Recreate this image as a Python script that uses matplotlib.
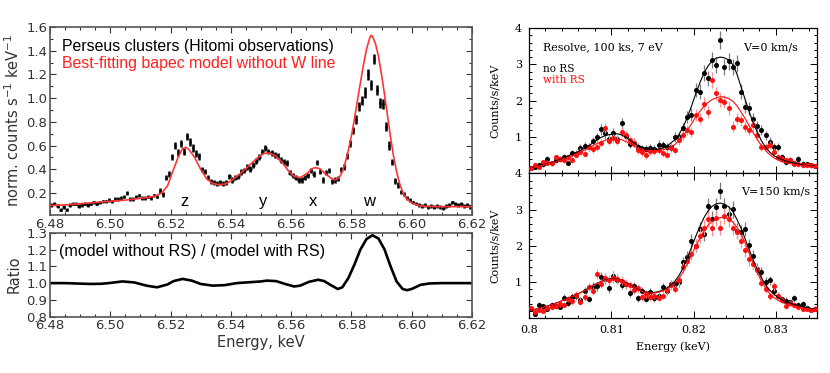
import numpy as np
import matplotlib
matplotlib.use("Agg")
from matplotlib import pyplot as plt
from matplotlib.ticker import MultipleLocator, FixedLocator

# ---------------- left: Hitomi Perseus spectrum ----------------
hit_start, hit_step = 6.4805, 0.001
hit_counts = [0.10, 0.11, 0.09, 0.06, 0.08, 0.06, 0.10, 0.11, 0.11, 0.09,
              0.10, 0.11, 0.10, 0.11, 0.12, 0.11, 0.12, 0.13, 0.13, 0.14,
              0.13, 0.15, 0.15, 0.16, 0.17, 0.20, 0.15, 0.15, 0.17, 0.18,
              0.16, 0.16, 0.17, 0.16, 0.18, 0.17, 0.22, 0.19, 0.33, 0.36,
              0.50, 0.60, 0.54, 0.62, 0.55, 0.68, 0.63, 0.58, 0.53, 0.51,
              0.40, 0.38, 0.33, 0.30, 0.29, 0.28, 0.29, 0.28, 0.29, 0.34,
              0.31, 0.33, 0.34, 0.38, 0.39, 0.42, 0.40, 0.44, 0.47, 0.50,
              0.55, 0.58, 0.55, 0.54, 0.52, 0.51, 0.48, 0.46, 0.45, 0.37,
              0.35, 0.33, 0.31, 0.31, 0.33, 0.35, 0.39, 0.36, 0.46, 0.38,
              0.31, 0.37, 0.39, 0.30, 0.31, 0.32, 0.40, 0.42, 0.51, 0.62,
              0.73, 0.82, 0.93, 0.98, 1.05, 1.20, 1.11, 1.33, 1.07, 0.96,
              0.95, 0.76, 0.60, 0.46, 0.30, 0.27, 0.21, 0.19, 0.16, 0.14,
              0.12, 0.11, 0.10, 0.09, 0.10, 0.08, 0.09, 0.08, 0.09, 0.08,
              0.07, 0.09, 0.10, 0.12, 0.11, 0.10, 0.11, 0.09, 0.10, 0.08]
hit_err = [0.015, 0.015, 0.015, 0.015, 0.015, 0.015, 0.015, 0.015, 0.015, 0.015,
           0.015, 0.015, 0.015, 0.015, 0.015, 0.015, 0.015, 0.015, 0.015, 0.015,
           0.015, 0.015, 0.015, 0.015, 0.015, 0.015, 0.015, 0.015, 0.015, 0.015,
           0.015, 0.015, 0.015, 0.015, 0.015, 0.015, 0.02, 0.02, 0.02, 0.025,
           0.025, 0.03, 0.03, 0.03, 0.03, 0.03, 0.03, 0.03, 0.03, 0.03,
           0.022, 0.022, 0.022, 0.022, 0.022, 0.022, 0.022, 0.022, 0.022, 0.022,
           0.022, 0.022, 0.022, 0.025, 0.025, 0.025, 0.025, 0.025, 0.025, 0.025,
           0.025, 0.025, 0.025, 0.025, 0.025, 0.025, 0.025, 0.025, 0.025, 0.022,
           0.022, 0.022, 0.022, 0.022, 0.022, 0.022, 0.022, 0.022, 0.022, 0.022,
           0.022, 0.022, 0.022, 0.022, 0.022, 0.022, 0.022, 0.022, 0.025, 0.03,
           0.03, 0.035, 0.035, 0.035, 0.045, 0.045, 0.045, 0.045, 0.045, 0.045,
           0.045, 0.035, 0.035, 0.025, 0.025, 0.025, 0.015, 0.015, 0.015, 0.015,
           0.015, 0.015, 0.015, 0.015, 0.015, 0.015, 0.015, 0.015, 0.015, 0.015,
           0.015, 0.015, 0.015, 0.015, 0.015, 0.015, 0.015, 0.015, 0.015, 0.015]

bapec_e = [6.480, 6.485, 6.490, 6.495, 6.500, 6.505, 6.510, 6.513, 6.515, 6.517,
           6.519, 6.521, 6.5225, 6.524, 6.525, 6.526, 6.528, 6.530, 6.532, 6.534,
           6.536, 6.538, 6.540, 6.543, 6.546, 6.549, 6.551, 6.553, 6.555, 6.557,
           6.559, 6.561, 6.563, 6.565, 6.567, 6.568, 6.5695, 6.571, 6.573, 6.5745,
           6.576, 6.577, 6.578, 6.579, 6.580, 6.581, 6.582, 6.583, 6.584, 6.585,
           6.586, 6.5865, 6.587, 6.588, 6.589, 6.590, 6.591, 6.592, 6.593, 6.594,
           6.595, 6.596, 6.597, 6.598, 6.600, 6.603, 6.608, 6.614, 6.620]
bapec_v = [0.095, 0.10, 0.11, 0.12, 0.13, 0.14, 0.155, 0.165, 0.175, 0.20,
           0.26, 0.40, 0.50, 0.575, 0.585, 0.57, 0.50, 0.40, 0.32, 0.28,
           0.27, 0.275, 0.30, 0.36, 0.43, 0.50, 0.535, 0.535, 0.51, 0.46,
           0.39, 0.34, 0.33, 0.36, 0.405, 0.415, 0.405, 0.37, 0.33, 0.31,
           0.33, 0.38, 0.46, 0.56, 0.68, 0.82, 0.98, 1.13, 1.28, 1.41,
           1.50, 1.53, 1.52, 1.46, 1.35, 1.20, 1.03, 0.85, 0.67, 0.51,
           0.38, 0.28, 0.21, 0.16, 0.115, 0.09, 0.085, 0.085, 0.085]

ratio_e = [6.480, 6.485, 6.490, 6.4935, 6.497, 6.500, 6.504, 6.508, 6.512, 6.5155,
           6.519, 6.521, 6.524, 6.527, 6.530, 6.534, 6.538, 6.542, 6.546, 6.550,
           6.552, 6.555, 6.558, 6.561, 6.563, 6.566, 6.569, 6.571, 6.573, 6.5755,
           6.577, 6.579, 6.581, 6.583, 6.585, 6.587, 6.589, 6.591, 6.593, 6.595,
           6.597, 6.5985, 6.600, 6.603, 6.606, 6.610, 6.620]
ratio_v = [1.000, 1.000, 0.997, 0.995, 0.996, 1.001, 1.010, 1.004, 0.985, 0.975,
           0.992, 1.012, 1.025, 1.015, 0.995, 0.985, 0.988, 1.000, 1.005, 1.010,
           1.015, 1.012, 0.995, 0.980, 0.985, 1.008, 1.020, 1.012, 0.990, 0.965,
           0.975, 1.030, 1.110, 1.200, 1.262, 1.285, 1.265, 1.200, 1.100, 1.010,
           0.965, 0.958, 0.965, 0.990, 0.998, 1.000, 1.000]

line_names = ["z", "y", "x", "w"]
line_e = [6.5248, 6.5508, 6.5674, 6.5858]

# ---------------- right: Resolve simulation ----------------
res_start, res_step = 0.80025, 0.0005

model_no_rs_v0 = [0.17, 0.19, 0.21, 0.24, 0.27, 0.30, 0.34, 0.38, 0.43, 0.48,
                  0.53, 0.58, 0.63, 0.69, 0.76, 0.84, 0.92, 0.99, 1.04, 1.07,
                  1.09, 1.09, 1.06, 1.00, 0.92, 0.84, 0.77, 0.73, 0.69, 0.67,
                  0.66, 0.67, 0.70, 0.75, 0.84, 0.93, 1.08, 1.28, 1.55, 1.85,
                  2.18, 2.48, 2.75, 2.95, 3.09, 3.17, 3.20, 3.18, 3.12, 3.00,
                  2.75, 2.40, 2.05, 1.70, 1.40, 1.13, 0.90, 0.72, 0.59, 0.49,
                  0.43, 0.38, 0.34, 0.31, 0.28, 0.26, 0.24, 0.22, 0.21, 0.20]
model_rs_v0 = [0.17, 0.19, 0.21, 0.23, 0.26, 0.29, 0.32, 0.36, 0.40, 0.44,
               0.49, 0.54, 0.59, 0.64, 0.70, 0.76, 0.82, 0.87, 0.91, 0.94,
               0.95, 0.95, 0.93, 0.88, 0.82, 0.75, 0.70, 0.66, 0.63, 0.61,
               0.61, 0.62, 0.65, 0.68, 0.72, 0.80, 0.91, 1.04, 1.20, 1.36,
               1.55, 1.70, 1.84, 1.95, 2.03, 2.08, 2.11, 2.10, 2.06, 1.99,
               1.87, 1.70, 1.52, 1.32, 1.12, 0.93, 0.77, 0.63, 0.52, 0.43,
               0.37, 0.32, 0.29, 0.27, 0.25, 0.23, 0.22, 0.21, 0.20, 0.19]
data_no_rs_v0 = [0.16, 0.19, 0.22, 0.25, 0.40, 0.28, 0.36, 0.39, 0.44, 0.30,
                 0.55, 0.54, 0.70, 0.75, 0.72, 0.88, 0.99, 1.21, 1.10, 0.95,
                 1.12, 0.94, 1.38, 1.04, 0.81, 0.85, 0.73, 0.68, 0.68, 0.71,
                 0.68, 0.79, 0.77, 0.73, 0.73, 1.00, 1.00, 1.24, 1.56, 1.62,
                 2.29, 2.25, 2.75, 2.62, 3.12, 2.98, 3.67, 2.94, 3.08, 2.94,
                 3.03, 2.25, 1.83, 1.79, 1.51, 1.30, 1.19, 1.05, 0.87, 0.73,
                 0.73, 0.45, 0.31, 0.36, 0.30, 0.40, 0.27, 0.25, 0.22, 0.21]
err_no_rs_v0 = [0.05, 0.06, 0.06, 0.06, 0.08, 0.07, 0.08, 0.08, 0.09, 0.07,
                0.10, 0.10, 0.11, 0.11, 0.11, 0.12, 0.13, 0.14, 0.14, 0.13,
                0.14, 0.13, 0.15, 0.13, 0.12, 0.12, 0.11, 0.11, 0.11, 0.11,
                0.11, 0.12, 0.11, 0.11, 0.11, 0.13, 0.13, 0.14, 0.16, 0.17,
                0.20, 0.20, 0.22, 0.21, 0.23, 0.22, 0.25, 0.22, 0.23, 0.22,
                0.23, 0.20, 0.18, 0.17, 0.16, 0.15, 0.14, 0.13, 0.12, 0.11,
                0.11, 0.09, 0.07, 0.08, 0.07, 0.08, 0.07, 0.06, 0.06, 0.06]
data_rs_v0 = [0.15, 0.24, 0.17, 0.31, 0.29, 0.28, 0.45, 0.40, 0.38, 0.44,
              0.36, 0.52, 0.60, 0.54, 0.72, 0.66, 0.72, 0.84, 1.25, 0.90,
              0.98, 0.90, 1.13, 1.05, 0.92, 0.85, 0.64, 0.59, 0.50, 0.61,
              0.61, 0.64, 0.55, 0.52, 0.70, 0.64, 0.91, 1.05, 1.19, 1.14,
              1.60, 1.51, 1.92, 1.69, 2.57, 2.20, 2.02, 1.97, 1.79, 1.28,
              1.51, 1.46, 1.28, 1.19, 1.33, 1.05, 0.73, 0.73, 0.77, 0.59,
              0.45, 0.40, 0.36, 0.36, 0.27, 0.25, 0.22, 0.22, 0.22, 0.21]
err_rs_v0 = [0.05, 0.06, 0.05, 0.07, 0.07, 0.07, 0.09, 0.08, 0.08, 0.09,
             0.08, 0.09, 0.10, 0.10, 0.11, 0.11, 0.11, 0.12, 0.15, 0.12,
             0.13, 0.12, 0.14, 0.13, 0.12, 0.12, 0.10, 0.10, 0.09, 0.10,
             0.10, 0.10, 0.10, 0.09, 0.11, 0.10, 0.12, 0.13, 0.14, 0.14,
             0.16, 0.16, 0.18, 0.17, 0.21, 0.19, 0.18, 0.18, 0.17, 0.15,
             0.16, 0.16, 0.15, 0.14, 0.15, 0.13, 0.11, 0.11, 0.11, 0.10,
             0.09, 0.08, 0.08, 0.08, 0.07, 0.06, 0.06, 0.06, 0.06, 0.06]

model_no_rs_v150 = [0.22, 0.24, 0.27, 0.30, 0.33, 0.37, 0.41, 0.45, 0.50, 0.55,
                    0.60, 0.65, 0.70, 0.76, 0.83, 0.90, 0.96, 1.01, 1.05, 1.08,
                    1.09, 1.08, 1.05, 0.99, 0.92, 0.85, 0.79, 0.75, 0.72, 0.71,
                    0.71, 0.73, 0.77, 0.83, 0.91, 1.02, 1.18, 1.40, 1.67, 1.95,
                    2.25, 2.52, 2.77, 2.96, 3.09, 3.16, 3.18, 3.15, 3.08, 2.96,
                    2.74, 2.50, 2.20, 1.90, 1.60, 1.34, 1.11, 0.92, 0.77, 0.66,
                    0.57, 0.50, 0.45, 0.41, 0.37, 0.34, 0.31, 0.29, 0.27, 0.25]
model_rs_v150 = [0.22, 0.24, 0.27, 0.30, 0.33, 0.37, 0.41, 0.45, 0.50, 0.55,
                 0.60, 0.65, 0.70, 0.76, 0.82, 0.89, 0.95, 1.00, 1.04, 1.07,
                 1.08, 1.07, 1.04, 0.98, 0.91, 0.84, 0.78, 0.73, 0.70, 0.69,
                 0.69, 0.71, 0.75, 0.80, 0.87, 0.96, 1.10, 1.28, 1.50, 1.74,
                 1.98, 2.20, 2.40, 2.56, 2.68, 2.75, 2.78, 2.78, 2.74, 2.66,
                 2.52, 2.33, 2.09, 1.80, 1.52, 1.25, 1.02, 0.83, 0.68, 0.57,
                 0.49, 0.43, 0.39, 0.35, 0.33, 0.30, 0.28, 0.26, 0.25, 0.24]
data_no_rs_v150 = [0.24, 0.12, 0.36, 0.33, 0.24, 0.36, 0.34, 0.31, 0.56, 0.42,
                   0.58, 0.60, 0.50, 0.75, 0.52, 0.87, 0.88, 1.13, 1.08, 0.82,
                   1.17, 1.06, 0.91, 0.93, 0.70, 0.88, 0.55, 0.76, 0.53, 0.72,
                   0.55, 0.60, 0.85, 0.75, 0.93, 0.95, 1.00, 1.54, 1.68, 2.14,
                   2.00, 2.47, 2.32, 3.10, 2.74, 3.08, 3.52, 3.10, 2.88, 3.01,
                   2.42, 2.37, 2.46, 2.01, 1.72, 1.36, 1.27, 1.00, 1.04, 0.76,
                   0.62, 0.53, 0.48, 0.44, 0.55, 0.35, 0.38, 0.28, 0.23, 0.26]
err_no_rs_v150 = [0.06, 0.05, 0.08, 0.07, 0.06, 0.08, 0.08, 0.07, 0.10, 0.08,
                  0.10, 0.10, 0.09, 0.11, 0.09, 0.12, 0.12, 0.14, 0.13, 0.12,
                  0.14, 0.13, 0.12, 0.12, 0.11, 0.12, 0.10, 0.11, 0.09, 0.11,
                  0.10, 0.10, 0.12, 0.11, 0.12, 0.13, 0.13, 0.16, 0.17, 0.19,
                  0.18, 0.20, 0.20, 0.23, 0.22, 0.23, 0.24, 0.23, 0.22, 0.23,
                  0.20, 0.20, 0.20, 0.18, 0.17, 0.15, 0.15, 0.13, 0.13, 0.11,
                  0.10, 0.09, 0.09, 0.09, 0.10, 0.08, 0.08, 0.07, 0.06, 0.07]
data_rs_v150 = [0.28, 0.17, 0.22, 0.20, 0.28, 0.30, 0.34, 0.38, 0.36, 0.52,
                0.46, 0.64, 0.45, 0.58, 0.86, 0.75, 1.22, 0.95, 1.10, 1.05,
                1.12, 1.08, 1.03, 0.95, 0.90, 0.78, 0.82, 0.58, 0.66, 0.58,
                0.62, 0.56, 0.62, 0.78, 0.90, 0.80, 1.04, 1.40, 1.59, 1.77,
                2.00, 2.28, 2.50, 2.74, 2.48, 2.78, 2.50, 2.83, 2.75, 2.50,
                2.38, 2.12, 1.88, 1.62, 1.50, 1.33, 0.98, 0.80, 0.60, 0.88,
                0.62, 0.50, 0.32, 0.42, 0.36, 0.30, 0.25, 0.26, 0.22, 0.24]
err_rs_v150 = [0.07, 0.05, 0.06, 0.06, 0.07, 0.07, 0.08, 0.08, 0.08, 0.09,
               0.09, 0.10, 0.09, 0.10, 0.12, 0.11, 0.14, 0.13, 0.14, 0.13,
               0.14, 0.14, 0.13, 0.13, 0.12, 0.11, 0.12, 0.10, 0.11, 0.10,
               0.10, 0.10, 0.10, 0.11, 0.12, 0.12, 0.13, 0.15, 0.16, 0.17,
               0.18, 0.20, 0.21, 0.22, 0.20, 0.22, 0.21, 0.22, 0.22, 0.21,
               0.20, 0.19, 0.18, 0.17, 0.16, 0.15, 0.13, 0.12, 0.10, 0.12,
               0.10, 0.09, 0.07, 0.08, 0.08, 0.07, 0.06, 0.07, 0.06, 0.06]

hit_x = hit_start + hit_step * np.arange(len(hit_counts))
res_x = res_start + res_step * np.arange(len(data_no_rs_v0))

fig = plt.figure(figsize=(8.3, 3.73), dpi=100)
gray = "#333333"
label_font = "Liberation Sans"
serif = "DejaVu Serif"
rfs = 8.0  # font size for the right-hand panels


def style_left(ax):
    ax.tick_params(which="both", direction="in", top=True, right=True,
                   colors=gray, labelsize=9.5, pad=2)
    ax.tick_params(which="major", length=4, width=0.8)
    ax.tick_params(which="minor", length=2.5, width=0.8)
    for s in ax.spines.values():
        s.set_color("#555555")
        s.set_linewidth(1.2)
    ax.set_xlim(6.48, 6.62)
    ax.xaxis.set_major_locator(MultipleLocator(0.02))
    ax.xaxis.set_minor_locator(MultipleLocator(0.005))
    ax.xaxis.set_major_formatter(matplotlib.ticker.FormatStrFormatter("%.2f"))


# left top
ax1 = fig.add_axes([0.0602, 0.4236, 0.5084, 0.504])
style_left(ax1)
ax1.set_ylim(0.0145, 1.6)
ax1.yaxis.set_major_locator(FixedLocator([0.2, 0.4, 0.6, 0.8, 1.0, 1.2, 1.4, 1.6]))
ax1.yaxis.set_minor_locator(MultipleLocator(0.1))
ax1.yaxis.set_major_formatter(matplotlib.ticker.FormatStrFormatter("%.1f"))
ax1.errorbar(hit_x, hit_counts, yerr=hit_err, xerr=0.0004, fmt="none",
             ecolor="black", elinewidth=1.8, capsize=0, zorder=2)
ax1.plot(bapec_e, bapec_v, color="#ff3535", lw=1.2, zorder=3)
ax1.set_ylabel("norm. counts s$^{-1}$ keV$^{-1}$", fontsize=10.5, color=gray,
               labelpad=3)
ax1.text(0.028, 0.895, "Perseus clusters (Hitomi observations)", transform=ax1.transAxes,
         fontsize=11.4, family=label_font, color="black", va="center")
ax1.text(0.028, 0.805, "Best-fitting bapec model without W line", transform=ax1.transAxes,
         fontsize=11.4, family=label_font, color="#ff2020", va="center")
for name, e in zip(line_names, line_e):
    ax1.text(e, 0.13, name, fontsize=12, family=label_font, ha="center", va="center")

# left bottom
ax2 = fig.add_axes([0.0602, 0.1509, 0.5084, 0.2252])
style_left(ax2)
ax2.set_ylim(0.8, 1.3)
ax2.yaxis.set_major_locator(MultipleLocator(0.1))
ax2.yaxis.set_major_formatter(matplotlib.ticker.FormatStrFormatter("%.1f"))
ax2.plot(ratio_e, ratio_v, color="black", lw=1.9)
ax2.set_ylabel("Ratio", fontsize=10.5, color=gray, labelpad=3)
ax2.set_xlabel("Energy, keV", fontsize=10.5, color=gray, labelpad=2)
ax2.text(0.022, 0.78, "(model without RS) / (model with RS)", transform=ax2.transAxes,
         fontsize=11.6, family=label_font, va="center")


def style_right(ax, show_x):
    ax.set_xlim(0.8, 0.835)
    ax.set_ylim(0, 4)
    ax.xaxis.set_major_locator(MultipleLocator(0.01))
    ax.xaxis.set_minor_locator(MultipleLocator(0.002))
    ax.yaxis.set_major_locator(FixedLocator([1, 2, 3, 4]))
    ax.yaxis.set_minor_locator(MultipleLocator(0.2))
    ax.tick_params(which="both", direction="in", top=True, right=True,
                   labelsize=rfs, pad=5)
    ax.tick_params(which="major", length=5, width=0.7)
    ax.tick_params(which="minor", length=2.5, width=0.7)
    for lab in ax.get_xticklabels() + ax.get_yticklabels():
        lab.set_family(serif)
    for s in ax.spines.values():
        s.set_linewidth(0.9)
    if show_x:
        ax.set_xticks([0.80, 0.81, 0.82, 0.83])
        ax.set_xticklabels(["0.8", "0.81", "0.82", "0.83"], family=serif)
    else:
        ax.tick_params(labelbottom=False)
    ax.set_ylabel("Counts/s/keV", fontsize=rfs, family=serif, labelpad=11)


def draw_pair(ax, d_k, e_k, m_k, d_r, e_r, m_r):
    ax.errorbar(res_x, d_k, yerr=e_k, fmt="o", ms=2.6, color="black",
                ecolor="#7a7a7a", elinewidth=0.9, capsize=0, zorder=3)
    ax.errorbar(res_x, d_r, yerr=e_r, fmt="o", ms=2.6, color="#ff1010",
                ecolor="#ff9090", elinewidth=0.9, capsize=0, zorder=4)
    ax.plot(res_x, m_k, color="black", lw=0.8, zorder=5)
    ax.plot(res_x, m_r, color="#ff1010", lw=0.8, zorder=5)


ax3 = fig.add_axes([0.6373, 0.5349, 0.347, 0.3901])
style_right(ax3, False)
draw_pair(ax3, data_no_rs_v0, err_no_rs_v0, model_no_rs_v0,
          data_rs_v0, err_rs_v0, model_rs_v0)
ax3.text(0.05, 0.866, "Resolve, 100 ks, 7 eV", transform=ax3.transAxes,
         fontsize=rfs, family=serif, va="center")
ax3.text(0.935, 0.866, "V=0 km/s", transform=ax3.transAxes,
         fontsize=rfs, family=serif, va="center", ha="right")
ax3.text(0.05, 0.72, "no RS", transform=ax3.transAxes,
         fontsize=7.6, family=serif, va="center")
ax3.text(0.05, 0.64, "with RS", transform=ax3.transAxes,
         fontsize=7.6, family=serif, va="center", color="#ff1010")

ax4 = fig.add_axes([0.6373, 0.1475, 0.347, 0.3874])
style_right(ax4, True)
draw_pair(ax4, data_no_rs_v150, err_no_rs_v150, model_no_rs_v150,
          data_rs_v150, err_rs_v150, model_rs_v150)
ax4.text(0.975, 0.874, "V=150 km/s", transform=ax4.transAxes,
         fontsize=rfs, family=serif, va="center", ha="right")
ax4.set_xlabel("Energy (keV)", fontsize=rfs, family=serif, labelpad=5)

fig.savefig("out.png", dpi=100)
plt.close(fig)
